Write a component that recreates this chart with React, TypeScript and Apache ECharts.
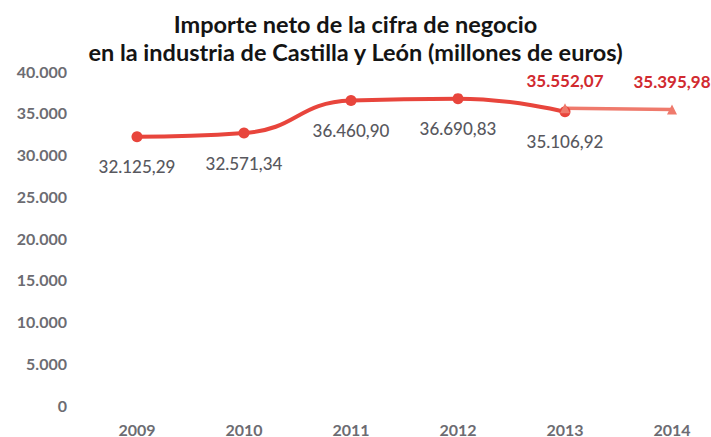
import React, { useEffect, useRef } from "react";
import * as echarts from "echarts";

const years = ["2009", "2010", "2011", "2012", "2013", "2014"];
const mainValues: (number | null)[] = [32125.29, 32571.34, 36460.9, 36690.83, 35106.92, null];
const revisedValues: (number | null)[] = [null, null, null, null, 35552.07, 35395.98];
const titleLines = [
  "Importe neto de la cifra de negocio",
  "en la industria de Castilla y León (millones de euros)",
];

function fmtThousands(v: number): string {
  const s = Math.floor(v).toString();
  return s.replace(/\B(?=(\d{3})+(?!\d))/g, ".");
}
function fmtValue(v: number): string {
  const intPart = Math.floor(v);
  const dec = Math.round((v - intPart) * 100);
  return fmtThousands(intPart) + "," + String(dec).padStart(2, "0");
}

const FONT = "Lato, 'Noto Sans', sans-serif";

export default function App() {
  const ref = useRef<HTMLDivElement>(null);
  useEffect(() => {
    if (!ref.current) return;
    const chart = echarts.init(ref.current, undefined, { renderer: "svg" });
    chart.setOption({
      animation: false,
      backgroundColor: "#ffffff",
      title: {
        text: titleLines.join("\n"),
        left: "center",
        top: 5,
        textStyle: {
          fontFamily: FONT,
          fontWeight: "bold",
          fontSize: 23.5,
          lineHeight: 28,
          color: "#141414",
        },
      },
      grid: { left: 137, right: 39, top: 71, bottom: 32 },
      xAxis: {
        type: "category",
        data: years,
        boundaryGap: false,
        axisLine: { show: false },
        axisTick: { show: false },
        axisLabel: {
          margin: 16,
          fontFamily: FONT,
          fontSize: 16,
          fontWeight: "bold",
          color: "#6c6c72",
        },
      },
      yAxis: {
        type: "value",
        min: 0,
        max: 40000,
        interval: 5000,
        splitLine: { show: false },
        axisLine: { show: false },
        axisTick: { show: false },
        axisLabel: {
          margin: 70,
          fontFamily: FONT,
          fontSize: 16,
          fontWeight: "bold",
          color: "#6c6c72",
          formatter: (v: number) => fmtThousands(v),
        },
      },
      series: [
        {
          type: "line",
          data: mainValues,
          smooth: true,
          symbol: "circle",
          symbolSize: 11,
          lineStyle: { color: "#e8453c", width: 4 },
          itemStyle: { color: "#e8453c" },
          label: {
            show: true,
            position: "bottom",
            distance: 16,
            fontFamily: FONT,
            fontSize: 17,
            fontWeight: 500,
            color: "#58585e",
            formatter: (p: any) => fmtValue(p.value),
          },
        },
        {
          type: "line",
          data: revisedValues,
          smooth: true,
          symbol: "triangle",
          symbolSize: 10,
          lineStyle: { color: "#ef7a6c", width: 3.5 },
          itemStyle: { color: "#ef7a6c" },
          label: {
            show: true,
            position: "top",
            distance: 14,
            fontFamily: FONT,
            fontSize: 17,
            fontWeight: "bold",
            color: "#d12a2f",
            formatter: (p: any) => fmtValue(p.value),
          },
        },
      ],
    });
    return () => chart.dispose();
  }, []);
  return (
    <div
      ref={ref}
      style={{ position: "fixed", left: 0, top: 0, width: 711, height: 437 }}
    />
  );
}
